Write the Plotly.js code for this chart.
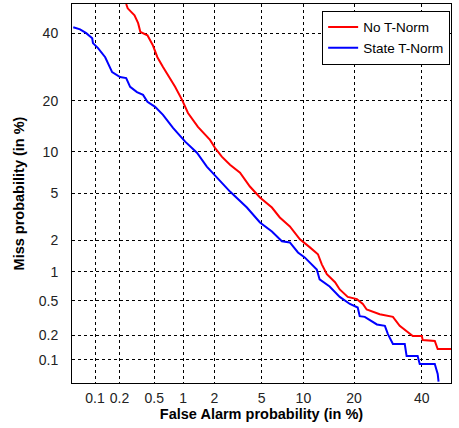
<!DOCTYPE html>
<html>
<head>
<meta charset="utf-8">
<script src="https://cdn.plot.ly/plotly-3.0.1.min.js"></script>
<style>html,body{margin:0;padding:0;background:#fff;}#chart{width:459px;height:428px;}</style>
</head>
<body>
<div id="chart"></div>
<script>
// Values in percent
const noTNormFA = [0.24,0.25,0.30,0.33,0.35,0.42,0.48,0.54,0.62,0.83,0.98,1.12,1.40,1.82,2.02,2.33,2.75,3.35,4.04,4.86,6.0,6.86,8.09,9.48,11.03,12.4,13.1,14.05,15.7,16.7,18.5,20.7,22.2,23.2,26.8,30.7,32.8,35.0,37.0,40.0,40.3,44.4,45.4,50];
const noTNormMiss = [50,48.5,46.1,43.4,40.4,39.3,36.1,32.2,29.2,23.6,20.2,17.2,14.3,11.9,10.6,9.26,8.15,7.16,5.65,4.65,3.86,3.19,2.67,2.05,1.73,1.49,1.19,0.95,0.785,0.66,0.55,0.52,0.46,0.40,0.354,0.33,0.26,0.226,0.197,0.197,0.176,0.172,0.137,0.137];
const stateTNormFA = [0.052,0.064,0.077,0.092,0.094,0.109,0.134,0.163,0.203,0.24,0.267,0.32,0.375,0.42,0.51,0.62,0.79,1.05,1.37,1.70,2.11,2.75,3.82,4.86,6.0,7.1,8.09,9.2,10.2,11.35,12.2,12.7,14.6,16.7,19.0,20.9,21.4,22.7,26.0,28.3,29.2,30.7,34.4,35.0,38.6,39.3,44.4,45.4,45.7];
const stateTNormMiss = [42.0,41.3,40.0,38.3,36.7,35.1,32.2,27.7,26.3,26.0,23.6,22.2,21.5,19.8,18.6,16.8,14.1,11.6,9.84,7.9,6.58,5.17,3.86,2.89,2.41,1.97,1.92,1.55,1.39,1.19,1.06,0.84,0.71,0.55,0.46,0.42,0.336,0.33,0.27,0.26,0.208,0.158,0.158,0.112,0.112,0.089,0.089,0.066,0.052];
const tickValsPct = [0.1,0.2,0.5,1,2,5,10,20,40];
const tickLabels = ['0.1','0.2','0.5','1','2','5','10','20','40'];
const axisLimitsPct = [0.05,50];

function probit(p){
  const a=[-3.969683028665376e+01,2.209460984245205e+02,-2.759285104469687e+02,1.383577518672690e+02,-3.066479806614716e+01,2.506628277459239e+00];
  const b=[-5.447609879822406e+01,1.615858368580409e+02,-1.556989798598866e+02,6.680131188771972e+01,-1.328068155288572e+01];
  const c=[-7.784894002430293e-03,-3.223964580411365e-01,-2.400758277161838e+00,-2.549732539343734e+00,4.374664141464968e+00,2.938163982698783e+00];
  const d=[7.784695709041462e-03,3.224671290700398e-01,2.445134137142996e+00,3.754408661907416e+00];
  const pl=0.02425, ph=1-pl; let q,r;
  if(p<pl){q=Math.sqrt(-2*Math.log(p));return (((((c[0]*q+c[1])*q+c[2])*q+c[3])*q+c[4])*q+c[5])/((((d[0]*q+d[1])*q+d[2])*q+d[3])*q+1);}
  if(p<=ph){q=p-0.5;r=q*q;return (((((a[0]*r+a[1])*r+a[2])*r+a[3])*r+a[4])*r+a[5])*q/(((((b[0]*r+b[1])*r+b[2])*r+b[3])*r+b[4])*r+1);}
  q=Math.sqrt(-2*Math.log(1-p));return -(((((c[0]*q+c[1])*q+c[2])*q+c[3])*q+c[4])*q+c[5])/((((d[0]*q+d[1])*q+d[2])*q+d[3])*q+1);
}
const pr = arr => arr.map(v => probit(v/100));

const font = 'Liberation Sans, Arial, sans-serif';
const traces = [
  {x: pr(noTNormFA), y: pr(noTNormMiss), mode:'lines', name:'No T-Norm', line:{color:'#ff0000', width:2}},
  {x: pr(stateTNormFA), y: pr(stateTNormMiss), mode:'lines', name:'State T-Norm', line:{color:'#0000ff', width:2}}
];
const axisBase = {
  range: pr(axisLimitsPct), tickvals: pr(tickValsPct), ticktext: tickLabels,
  showgrid:true, gridcolor:'#000', gridwidth:1, griddash:'3px,3px',
  zeroline:false, showline:true, mirror:true, linecolor:'#000', linewidth:1,
  ticks:'', tickfont:{family:font, size:14, color:'#222'}
};
const layout = {
  width:459, height:428,
  margin:{l:72, r:8, t:4, b:45},
  paper_bgcolor:'#fff', plot_bgcolor:'#fff',
  showlegend:true,
  legend:{x:0.66, y:0.982, xanchor:'left', yanchor:'top', bgcolor:'#fff', bordercolor:'#000', borderwidth:1,
          font:{family:font, size:13.5, color:'#000'}, tracegroupgap:0},
  xaxis: Object.assign({}, axisBase, {ticklabelstandoff:2,
    title:{text:'<b>False Alarm probability (in %)</b>', font:{family:font, size:14.5, color:'#000'}, standoff:4}}),
  yaxis: Object.assign({}, axisBase, {ticklabelstandoff:10,
    title:{text:'<b>Miss probability (in %)</b>', font:{family:font, size:14.5, color:'#000'}, standoff:10}})
};
Plotly.newPlot('chart', traces, layout, {displayModeBar:false, staticPlot:true});
</script>
</body>
</html>
